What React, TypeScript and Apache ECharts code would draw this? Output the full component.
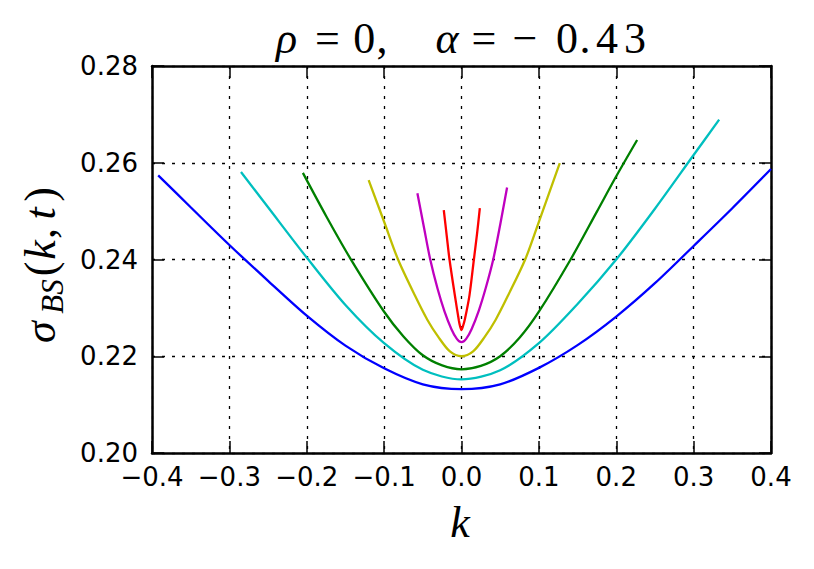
import { useEffect, useRef } from 'react';
import * as echarts from 'echarts';

// k (log-moneyness) and implied vol for each maturity curve
const kBlue = [-0.392, -0.35, -0.3, -0.25, -0.2, -0.15, -0.1, -0.05, 0, 0.05, 0.1, 0.15, 0.2, 0.25, 0.3, 0.35, 0.4];
const volBlue = [0.2574, 0.2508, 0.2430, 0.2356, 0.2284, 0.2222, 0.2175, 0.2142, 0.2132, 0.2142, 0.2176, 0.2223, 0.2282, 0.2351, 0.2428, 0.2506, 0.2587];

const kCyan = [-0.285, -0.25, -0.2, -0.15, -0.1, -0.05, 0, 0.05, 0.1, 0.15, 0.2, 0.25, 0.3, 0.333];
const volCyan = [0.2581, 0.2508, 0.2404, 0.2306, 0.2227, 0.2172, 0.2152, 0.2171, 0.2227, 0.2308, 0.2400, 0.2505, 0.2616, 0.2689];

const kGreen = [-0.205, -0.175, -0.1436, -0.1, -0.075, -0.05, -0.025, 0, 0.025, 0.05, 0.075, 0.1, 0.141, 0.175, 0.2, 0.227];
const volGreen = [0.2579, 0.2490, 0.2402, 0.2292, 0.2241, 0.2202, 0.2181, 0.2173, 0.2180, 0.2200, 0.2238, 0.2292, 0.2400, 0.2499, 0.2572, 0.2647];

const kYellow = [-0.12, -0.1, -0.082, -0.06, -0.044, -0.03, -0.015, 0, 0.015, 0.03, 0.044, 0.06, 0.0823, 0.1, 0.127];
const volYellow = [0.2564, 0.2478, 0.2400, 0.2325, 0.2275, 0.2240, 0.2210, 0.2200, 0.2210, 0.2240, 0.2275, 0.2325, 0.2400, 0.2478, 0.2599];

const kMagenta = [-0.057, -0.048, -0.0404, -0.031, -0.022, -0.013, -0.006, 0, 0.006, 0.013, 0.0225, 0.0315, 0.041, 0.05, 0.0589];
const volMagenta = [0.2537, 0.2462, 0.2400, 0.2340, 0.2293, 0.2256, 0.2236, 0.2229, 0.2236, 0.2256, 0.2295, 0.2342, 0.2400, 0.2472, 0.2549];

const kRed = [-0.0229, -0.019, -0.0155, -0.0086, -0.0034, -0.0017, 0, 0.0017, 0.0043, 0.0103, 0.016, 0.020, 0.0237];
const volRed = [0.2502, 0.2448, 0.2400, 0.2326, 0.2274, 0.2261, 0.2254, 0.2261, 0.2276, 0.2326, 0.2400, 0.2452, 0.2506];

const curves = [
  { k: kBlue, v: volBlue, color: '#0000ff' },
  { k: kCyan, v: volCyan, color: '#00bfbf' },
  { k: kGreen, v: volGreen, color: '#008000' },
  { k: kYellow, v: volYellow, color: '#bfbf00' },
  { k: kMagenta, v: volMagenta, color: '#bf00bf' },
  { k: kRed, v: volRed, color: '#ff0000' },
];

const SERIF = '"Liberation Serif", "DejaVu Serif", serif';
const SANS = '"DejaVu Sans", sans-serif';

function glyph(text: string, x: number, y: number, size: number, italic: boolean) {
  return {
    type: 'text',
    x,
    y,
    silent: true,
    style: {
      text,
      fill: '#000',
      fontSize: size,
      fontFamily: SERIF,
      fontStyle: italic ? 'italic' : 'normal',
      fontWeight: 'normal',
      align: 'center',
      verticalAlign: 'middle',
      textAlign: 'center',
      textVerticalAlign: 'middle',
    },
  };
}

export default function App() {
  const ref = useRef<HTMLDivElement>(null);

  useEffect(() => {
    if (!ref.current) return;
    const chart = echarts.init(ref.current, undefined, { renderer: 'svg' });

    const axisLine = { show: true, onZero: false, lineStyle: { color: '#000', width: 2.5 } };
    const axisTick = { show: true, inside: true, length: 12, lineStyle: { color: '#000', width: 1.5 } };
    const gridLine = { show: true, lineStyle: { color: '#000', width: 1.3, type: [3, 7] as any } };

    const TY = 38; // title center line
    const TS = 44; // title font size
    const LX = 40; // y-label center line

    chart.setOption({
      animation: false,
      backgroundColor: '#fff',
      grid: { left: 152, right: 43, top: 66, bottom: 116, containLabel: false },
      xAxis: [
        {
          type: 'value',
          min: -0.4,
          max: 0.4,
          interval: 0.1,
          position: 'bottom',
          axisLine,
          axisTick,
          splitLine: gridLine,
          axisLabel: {
            margin: 11,
            color: '#000',
            fontFamily: SANS,
            fontSize: 26,
            formatter: (v: number) => v.toFixed(1).replace('-', '\u2212').replace('\u22120.0', '0.0'),
          },
        },
        {
          type: 'value',
          min: -0.4,
          max: 0.4,
          interval: 0.1,
          position: 'top',
          axisLine,
          axisTick,
          splitLine: { show: false },
          axisLabel: { show: false },
        },
      ],
      yAxis: [
        {
          type: 'value',
          min: 0.2,
          max: 0.28,
          interval: 0.02,
          position: 'left',
          axisLine,
          axisTick,
          splitLine: gridLine,
          axisLabel: {
            margin: 14,
            color: '#000',
            fontFamily: SANS,
            fontSize: 26,
            formatter: (v: number) => v.toFixed(2),
          },
        },
        {
          type: 'value',
          min: 0.2,
          max: 0.28,
          interval: 0.02,
          position: 'right',
          axisLine,
          axisTick,
          splitLine: { show: false },
          axisLabel: { show: false },
        },
      ],
      series: curves.map((c) => ({
        type: 'line',
        xAxisIndex: 0,
        yAxisIndex: 0,
        data: c.k.map((k, i) => [k, c.v[i]]),
        showSymbol: false,
        symbol: 'none',
        smooth: 0.3,
        lineStyle: { color: c.color, width: 2.3 },
        itemStyle: { color: c.color },
        z: 3,
      })),
      graphic: [
        // title: rho = 0,   alpha = -0. 43
        glyph('\u03c1', 286.5, TY, TS, true),
        glyph('=', 327.5, TY, TS, false),
        glyph('0', 364.3, TY, TS, false),
        glyph(',', 382, TY, TS, false),
        glyph('\u03b1', 447, TY, TS, true),
        glyph('=', 484, TY, TS, false),
        glyph('\u2212', 525, TY, TS, false),
        glyph('0', 567, TY, TS, false),
        glyph('.', 585, TY, TS, false),
        glyph('4', 607, TY, TS, false),
        glyph('3', 635, TY, TS, false),
        // x-axis label
        glyph('k', 460, 522, 44, true),
        // y-axis label, rotated
        {
          type: 'group',
          x: LX,
          y: 348,
          rotation: Math.PI / 2,
          children: [
            glyph('\u03c3', 15.8, 0, 44, true),
            glyph('BS', 51.5, 12.4, 31, true),
            glyph('(', 79, 0, 44, false),
            glyph('k', 98, 0, 44, true),
            glyph(',', 114.5, 0, 44, false),
            glyph('t', 134.5, 0, 44, true),
            glyph(')', 153.5, 0, 44, false),
          ],
        },
      ],
    });

    return () => chart.dispose();
  }, []);

  return (
    <div
      ref={ref}
      style={{ position: 'fixed', left: 0, top: 0, width: 814, height: 569, background: '#fff' }}
    />
  );
}
